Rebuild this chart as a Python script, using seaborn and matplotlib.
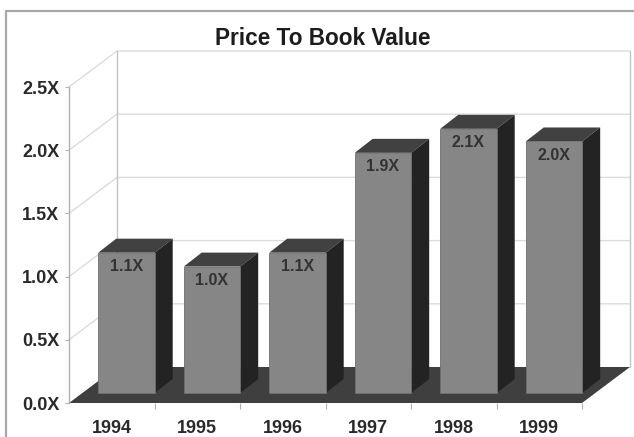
import matplotlib
matplotlib.use('Agg')
import matplotlib.pyplot as plt
from matplotlib.lines import Line2D
from matplotlib.patches import Polygon
import seaborn as sns

years = ['1994', '1995', '1996', '1997', '1998', '1999']
values = [1.11, 1.0, 1.11, 1.9, 2.09, 1.99]
bar_labels = ['1.1X', '1.0X', '1.1X', '1.9X', '2.1X', '2.0X']
y_ticks = [0, 0.5, 1.0, 1.5, 2.0, 2.5]
y_tick_labels = ['0.0X', '0.5X', '1.0X', '1.5X', '2.0X', '2.5X']

sns.set_theme(style='white')
plt.rcParams['font.family'] = ['Liberation Sans', 'DejaVu Sans']

fig = plt.figure(figsize=(6.34, 4.37), dpi=100)
ax = fig.add_axes([69 / 634, 34 / 437, 513 / 634, 316 / 437])
ax.patch.set_alpha(0)

# one pixel in data units, the axes are the front plane of the box
px = 6 / 513
py = 2.5 / 316
depth_x, depth_y = 48 * px, 36 * py

sns.barplot(x=years, y=values, color='#868686', saturation=1, width=56.5 * px, ax=ax)
ax.set_xlim(-0.5, 5.5)
ax.set_ylim(0, 2.5)

# back wall, side wall and floor
grid = '#dcdcdc'
for v in y_ticks[1:]:
    ax.plot([-0.5, -0.5 + depth_x, 5.5 + depth_x], [v, v + depth_y, v + depth_y],
            color=grid, lw=1, clip_on=False, zorder=1)
ax.plot([-0.5 + depth_x] * 2, [depth_y, 2.5 + depth_y], color='#c4c4c4', lw=1, clip_on=False, zorder=1)
ax.plot([5.5 + depth_x] * 2, [depth_y, 2.5 + depth_y], color='#c4c4c4', lw=1, clip_on=False, zorder=1)
floor = [(-0.5, 0), (5.5, 0), (5.5 + depth_x, depth_y), (-0.5 + depth_x, depth_y)]
ax.add_patch(Polygon(floor, closed=True, fc='#3f3f3f', ec='none', clip_on=False, zorder=2))

# move the seaborn bars back onto the floor and give them depth
shift_x, shift_y = 14.7 * px, 10 * py
bar_dx, bar_dy = 18 * px, 14 * py
for bar, label in zip(ax.patches[:len(values)], bar_labels):
    bar.set_x(bar.get_x() + shift_x)
    bar.set_y(shift_y)
    bar.set_clip_on(False)
    bar.set_edgecolor('#707070')
    bar.set_linewidth(0.6)
    bar.set_zorder(5)
    x0, x1 = bar.get_x(), bar.get_x() + bar.get_width()
    y0, y1 = shift_y, shift_y + bar.get_height()
    ax.add_patch(Polygon([(x0, y1), (x1, y1), (x1 + bar_dx, y1 + bar_dy), (x0 + bar_dx, y1 + bar_dy)],
                         closed=True, fc='#414141', ec='none', clip_on=False, zorder=4))
    ax.add_patch(Polygon([(x1, y0), (x1 + bar_dx, y0 + bar_dy), (x1 + bar_dx, y1 + bar_dy), (x1, y1)],
                         closed=True, fc='#232323', ec='none', clip_on=False, zorder=4))
    ax.text((x0 + x1) / 2, y1 - 14 * py, label, ha='center', va='center', fontsize=11.5,
            fontweight='bold', color='#333333', zorder=6)

for side in ['top', 'right', 'bottom']:
    ax.spines[side].set_visible(False)
ax.spines['left'].set_color('#b0b0b0')
ax.spines['left'].set_linewidth(1)

ax.set_yticks(y_ticks, y_tick_labels)
ax.set_xticks(range(len(years)), years)
ax.set_xticks([i + 0.5 for i in range(6)], minor=True)
ax.tick_params(axis='y', length=3, width=0.8, color='#b0b0b0', pad=4, left=True,
               labelsize=13, labelcolor='#2a2a2a')
ax.tick_params(axis='x', which='major', length=0, pad=12, labelsize=13, labelcolor='#2a2a2a')
ax.tick_params(axis='x', which='minor', length=4, width=0.8, color='#b0b0b0', bottom=True)
for t in ax.get_xticklabels() + ax.get_yticklabels():
    t.set_fontweight('bold')
ax.set_xlabel('')
ax.set_ylabel('')

fig.text(323 / 634, 1 - 38.5 / 437, 'Price To Book Value', ha='center', va='center',
         fontsize=16.3, fontweight='bold', color='#1c1c1c')

# page frame around the chart
fig.add_artist(Line2D([6 / 634, 6 / 634, 1], [0, 1 - 11 / 437, 1 - 11 / 437],
                      color='#a8a8a8', lw=1.6, transform=fig.transFigure))

fig.savefig('out.png', dpi=100)
